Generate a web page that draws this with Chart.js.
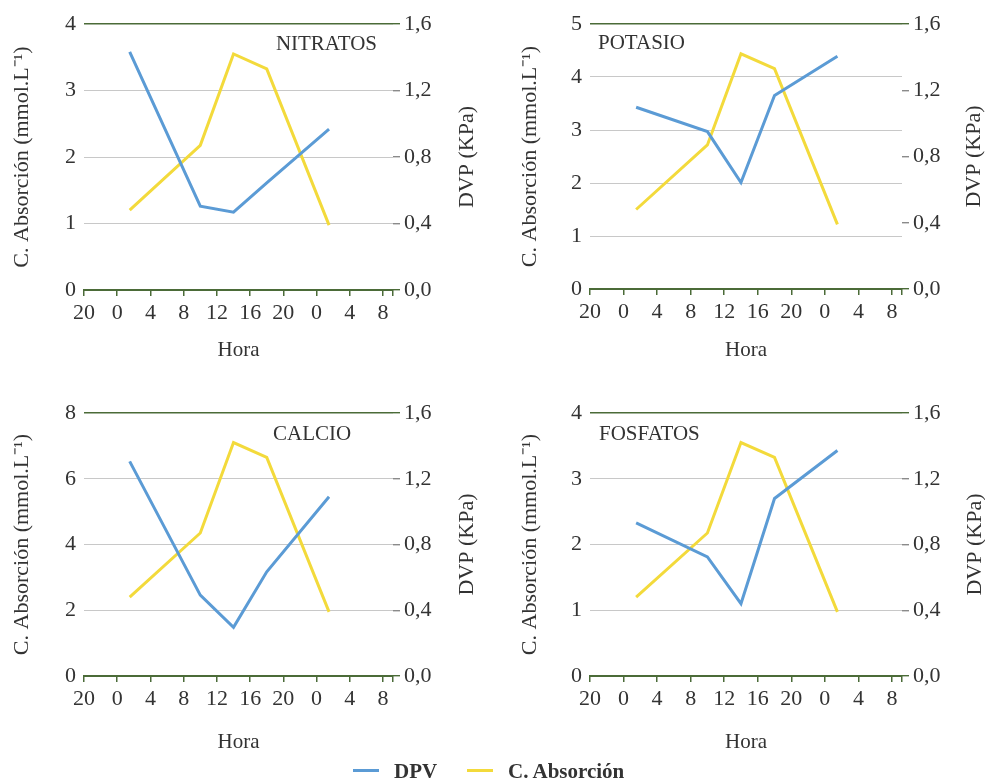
<!DOCTYPE html>
<html lang="es">
<head>
<meta charset="utf-8">
<title>Absorción de nutrientes y DVP</title>
<script src="https://cdn.jsdelivr.net/npm/chart.js@4.4.1/dist/chart.umd.min.js"></script>
<style>
    html, body { margin: 0; padding: 0; background: #fff; }
    body {
        width: 985px; height: 779px; position: relative; overflow: hidden;
        font-family: "Liberation Serif", "Times New Roman", serif; color: #333;
    }
    .panel { position: absolute; }
    .legend { position: absolute; top: 759px; left: 0; width: 985px; height: 20px; z-index: 2; }
    .legend-item { position: absolute; top: 0; font-weight: bold; font-size: 21px; line-height: 24px; white-space: nowrap; }
    .legend-line { position: absolute; top: 10px; height: 3px; width: 26px; }
</style>
</head>
<body>
<div class="panel" id="panel-nitratos"><canvas></canvas></div>
<div class="panel" id="panel-potasio"><canvas></canvas></div>
<div class="panel" id="panel-calcio"><canvas></canvas></div>
<div class="panel" id="panel-fosfatos"><canvas></canvas></div>

<div class="legend">
    <span class="legend-line" style="left:353px; background:#5b9bd5;"></span>
    <span class="legend-item" style="left:394px;">DPV</span>
    <span class="legend-line" style="left:467px; background:#f3da3b;"></span>
    <span class="legend-item" style="left:508px;">C. Absorción</span>
</div>

<script>
// Datos
// Eje X: horas transcurridas desde las 20:00 del primer día
const tiempo = [5.5, 14, 18, 22, 29.5];
const dvp = [0.48, 0.87, 1.42, 1.33, 0.39];
const nitratos = [3.58, 1.26, 1.17, 1.61, 2.42];
const potasio = [3.43, 2.97, 2.01, 3.65, 4.39];
const calcio = [6.53, 2.46, 1.48, 3.17, 5.45];
const fosfatos = [2.33, 1.81, 1.10, 2.70, 3.43];

// Marcas de los ejes
const ticksHora = [0, 4, 8, 12, 16, 20, 24, 28, 32, 36];
const etiquetasHora = ['20', '0', '4', '8', '12', '16', '20', '0', '4', '8'];
const ticksDvp = [0, 0.4, 0.8, 1.2, 1.6];
const etiquetasDvp = ['0,0', '0,4', '0,8', '1,2', '1,6'];
const ejeXMax = 37.2;

// Estilos
const familia = '"Liberation Serif", "Times New Roman", serif';
const colorTexto = '#333333';
const colorAzul = '#5b9bd5';
const colorAmarillo = '#f3da3b';
const colorVerde = '#4b6b38';
const colorRejilla = '#c8c8c8';

// Disposición de cada panel (coordenadas de página)
const paneles = [
    {
        id: 'panel-nitratos', nombre: 'NITRATOS', valores: nitratos, max: 4, paso: 1,
        caja: { left: 0, top: 0, width: 490, height: 370 },
        area: { left: 84, right: 393, top: 24, bottom: 290 },
        tituloIzq: 22, tituloDer: 467, tituloX: 350,
        rotulo: { x: 377, y: 50, align: 'right' }
    },
    {
        id: 'panel-potasio', nombre: 'POTASIO', valores: potasio, max: 5, paso: 1,
        caja: { left: 490, top: 0, width: 495, height: 370 },
        area: { left: 590, right: 902, top: 24, bottom: 289 },
        tituloIzq: 530, tituloDer: 974, tituloX: 350,
        rotulo: { x: 598, y: 49, align: 'left' }
    },
    {
        id: 'panel-calcio', nombre: 'CALCIO', valores: calcio, max: 8, paso: 2,
        caja: { left: 0, top: 390, width: 490, height: 370 },
        area: { left: 84, right: 393, top: 413, bottom: 676 },
        tituloIzq: 22, tituloDer: 467, tituloX: 742,
        rotulo: { x: 273, y: 440, align: 'left' }
    },
    {
        id: 'panel-fosfatos', nombre: 'FOSFATOS', valores: fosfatos, max: 4, paso: 1,
        caja: { left: 490, top: 390, width: 495, height: 370 },
        area: { left: 590, right: 902, top: 413, bottom: 676 },
        tituloIzq: 530, tituloDer: 975, tituloX: 742,
        rotulo: { x: 599, y: 440, align: 'left' }
    }
];

/**
 * Dibuja el título del eje derecho, leído de abajo hacia arriba
 */
const tituloDerecho = {
    id: 'tituloDerecho',
    afterDraw(chart, args, opts) {
        const { ctx, chartArea } = chart;
        ctx.save();
        ctx.translate(opts.x, (chartArea.top + chartArea.bottom) / 2);
        ctx.rotate(-Math.PI / 2);
        ctx.font = `22px ${familia}`;
        ctx.fillStyle = colorTexto;
        ctx.textAlign = 'center';
        ctx.textBaseline = 'middle';
        ctx.fillText(opts.texto, 0, 0);
        ctx.restore();
    }
};

/**
 * Dibuja el nombre del nutriente dentro del área del gráfico
 */
const rotuloPanel = {
    id: 'rotuloPanel',
    afterDraw(chart, args, opts) {
        const { ctx } = chart;
        ctx.save();
        ctx.font = `21px ${familia}`;
        ctx.fillStyle = colorTexto;
        ctx.textAlign = opts.align;
        ctx.textBaseline = 'alphabetic';
        ctx.fillText(opts.texto, opts.x, opts.y);
        ctx.restore();
    }
};

/**
 * Crea el gráfico de un panel
 * @param {Object} p - Configuración del panel
 */
function crearPanel(p) {
    const contenedor = document.getElementById(p.id);
    contenedor.style.left = p.caja.left + 'px';
    contenedor.style.top = p.caja.top + 'px';
    contenedor.style.width = p.caja.width + 'px';
    contenedor.style.height = p.caja.height + 'px';

    const fuenteTicks = { family: familia, size: 22 };
    const fuenteTitulo = { family: familia, size: 22 };
    const fuenteHora = { family: familia, size: 21 };

    const ticksIzq = [];
    for (let v = 0; v <= p.max; v += p.paso) ticksIzq.push(v);

    new Chart(contenedor.querySelector('canvas'), {
        type: 'line',
        data: {
            datasets: [
                {
                    label: 'DPV',
                    data: tiempo.map((t, i) => ({ x: t, y: p.valores[i] })),
                    borderColor: colorAzul,
                    borderWidth: 3,
                    pointRadius: 0,
                    tension: 0,
                    yAxisID: 'y'
                },
                {
                    label: 'C. Absorción',
                    data: tiempo.map((t, i) => ({ x: t, y: dvp[i] })),
                    borderColor: colorAmarillo,
                    borderWidth: 3,
                    pointRadius: 0,
                    tension: 0,
                    yAxisID: 'y1'
                }
            ]
        },
        plugins: [tituloDerecho, rotuloPanel],
        options: {
            responsive: true,
            maintainAspectRatio: false,
            animation: false,
            layout: { padding: { top: p.area.top - p.caja.top, left: 0, right: 0, bottom: 0 } },
            plugins: {
                legend: { display: false },
                tooltip: { enabled: false },
                tituloDerecho: { texto: 'DVP (KPa)', x: p.tituloDer - p.caja.left },
                rotuloPanel: {
                    texto: p.nombre,
                    x: p.rotulo.x - p.caja.left,
                    y: p.rotulo.y - p.caja.top,
                    align: p.rotulo.align
                }
            },
            scales: {
                x: {
                    type: 'linear',
                    min: 0,
                    max: ejeXMax,
                    afterBuildTicks: (scale) => {
                        scale.ticks = ticksHora.concat([ejeXMax]).map(v => ({ value: v }));
                    },
                    afterFit: (scale) => {
                        scale.height = p.caja.top + p.caja.height - p.area.bottom;
                    },
                    ticks: {
                        autoSkip: false,
                        maxRotation: 0,
                        padding: 4,
                        color: colorTexto,
                        font: fuenteTicks,
                        callback: (value, index) => etiquetasHora[index] || ''
                    },
                    grid: { drawOnChartArea: false, color: colorVerde, tickLength: 6, lineWidth: 1.5 },
                    border: { color: colorVerde, width: 2 },
                    title: {
                        display: true,
                        text: 'Hora',
                        color: colorTexto,
                        font: fuenteHora,
                        padding: { top: 0, bottom: p.caja.top + p.caja.height - p.tituloX - 12.6 }
                    }
                },
                y: {
                    position: 'left',
                    min: 0,
                    max: p.max,
                    afterBuildTicks: (scale) => {
                        scale.ticks = ticksIzq.map(v => ({ value: v }));
                    },
                    afterFit: (scale) => {
                        scale.width = p.area.left - p.caja.left;
                    },
                    ticks: { padding: 8, color: colorTexto, font: fuenteTicks },
                    grid: {
                        drawTicks: false,
                        color: (c) => (c.tick.value === 0 || c.tick.value === p.max) ? colorVerde : colorRejilla,
                        lineWidth: (c) => (c.tick.value === p.max) ? 1.6 : 1
                    },
                    border: { display: false },
                    title: {
                        display: true,
                        text: 'C. Absorción (mmol.L⁻¹)',
                        color: colorTexto,
                        font: fuenteTitulo,
                        padding: { top: p.tituloIzq - p.caja.left - 13.2, bottom: 0 }
                    }
                },
                y1: {
                    position: 'right',
                    min: 0,
                    max: 1.6,
                    afterBuildTicks: (scale) => {
                        scale.ticks = ticksDvp.map(v => ({ value: v }));
                    },
                    afterFit: (scale) => {
                        scale.width = p.caja.left + p.caja.width - p.area.right;
                    },
                    ticks: {
                        padding: 4,
                        color: colorTexto,
                        font: fuenteTicks,
                        callback: (value, index) => etiquetasDvp[index]
                    },
                    grid: {
                        drawOnChartArea: false,
                        tickLength: 7,
                        color: (c) => (c.index === 0 || c.index === ticksDvp.length - 1) ? colorVerde : '#8a8a8a',
                        lineWidth: 1.4
                    },
                    border: { display: false }
                }
            }
        }
    });
}

paneles.forEach(crearPanel);
</script>
</body>
</html>
